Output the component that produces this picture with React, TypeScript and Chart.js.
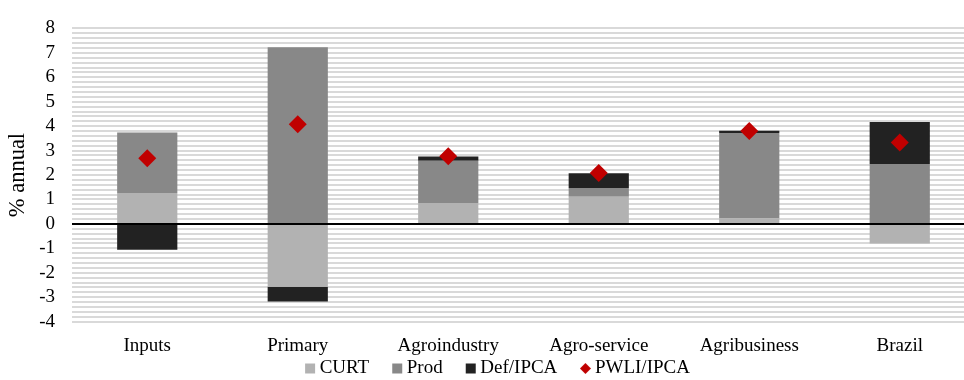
import React, { useEffect, useRef } from "react";
import { Chart, registerables } from "chart.js";

Chart.register(...registerables);

// Decomposition of annual growth by segment (% per year)
const categories = ["Inputs", "Primary", "Agroindustry", "Agro-service", "Agribusiness", "Brazil"];
const curt = [1.27, -2.57, 0.86, 1.11, 0.23, -0.8];
const prod = [2.47, 7.23, 1.72, 0.36, 3.49, 2.45];
const defIpca = [-1.06, -0.6, 0.18, 0.6, 0.09, 1.72];
const pwliIpca = [2.69, 4.08, 2.77, 2.08, 3.8, 3.33];

const yMin = -4;
const yMax = 8;
const yMinorStep = 0.2;

const FONT = "'Liberation Serif', 'Times New Roman', Times, serif";
const RED = "#c00000";

const CANVAS_W = 996;
const CANVAS_H = 380;
// the top tick label adds ~11px above this padding
const TOP_PAD = 10.7;
const X_AXIS_H = 57.3;
const LEGEND_TOP = 331;
const LEGEND_DX = 10;
const LEGEND_GAP = 28;

// black zero line drawn on top of the bars
const zeroLine = {
  id: "zeroLine",
  afterDatasetsDraw(chart: any) {
    const { ctx, chartArea, scales } = chart;
    const y = Math.round(scales.y.getPixelForValue(0));
    ctx.save();
    ctx.strokeStyle = "#000";
    ctx.lineWidth = 2;
    ctx.beginPath();
    ctx.moveTo(chartArea.left, y);
    ctx.lineTo(chartArea.right, y);
    ctx.stroke();
    ctx.restore();
  },
};

// the legend takes no room in the layout; it is placed below the category labels
const legendPlace = {
  id: "legendPlace",
  afterLayout(chart: any) {
    const lg = chart.legend;
    if (!lg) return;
    lg.top = LEGEND_TOP;
    lg.bottom = chart.height;
    lg.height = lg.bottom - lg.top;
    lg.left += LEGEND_DX;
    lg.right += LEGEND_DX;
  },
};

// small red diamond used as the PWLI/IPCA legend symbol
function diamondIcon(size: number, color: string) {
  const c = document.createElement("canvas");
  c.width = size;
  c.height = size;
  const g = c.getContext("2d")!;
  const h = size / 2;
  g.fillStyle = color;
  g.beginPath();
  g.moveTo(h, 0);
  g.lineTo(size, h);
  g.lineTo(h, size);
  g.lineTo(0, h);
  g.closePath();
  g.fill();
  return c;
}

export default function App() {
  const canvasRef = useRef<HTMLCanvasElement | null>(null);

  useEffect(() => {
    if (!canvasRef.current) return;
    Chart.defaults.font.family = FONT;
    Chart.defaults.color = "#000";
    const legendDiamond = diamondIcon(11, RED);

    const chart = new Chart(canvasRef.current, {
      type: "bar",
      data: {
        labels: categories,
        datasets: [
          { type: "bar", label: "CURT", data: curt, backgroundColor: "#b2b2b2", borderWidth: 0, stack: "s", order: 2 },
          { type: "bar", label: "Prod", data: prod, backgroundColor: "#888888", borderWidth: 0, stack: "s", order: 2 },
          { type: "bar", label: "Def/IPCA", data: defIpca, backgroundColor: "#222222", borderWidth: 0, stack: "s", order: 2 },
          {
            type: "line",
            label: "PWLI/IPCA",
            data: pwliIpca,
            showLine: false,
            pointStyle: "rectRot",
            pointRadius: 9,
            pointHoverRadius: 9,
            pointBackgroundColor: RED,
            pointBorderColor: RED,
            pointBorderWidth: 0,
            backgroundColor: RED,
            borderColor: RED,
            borderWidth: 0,
            stack: "p",
            order: 0,
          } as any,
        ],
      },
      options: {
        responsive: false,
        animation: false,
        layout: { padding: { left: 5, top: TOP_PAD, right: 21, bottom: 0 } },
        datasets: { bar: { barPercentage: 0.4, categoryPercentage: 1.0 } },
        scales: {
          x: {
            stacked: true,
            grid: { display: false, drawTicks: false },
            border: { display: false },
            ticks: { font: { size: 19 }, color: "#000", padding: 13.4 },
            afterFit: (scale: any) => {
              scale.height = X_AXIS_H;
            },
          },
          y: {
            stacked: true,
            min: yMin,
            max: yMax,
            afterFit: (scale: any) => {
              scale.width = 67;
            },
            ticks: {
              stepSize: yMinorStep,
              maxTicksLimit: 1000,
              autoSkip: false,
              font: { size: 19 },
              color: "#000",
              padding: 17,
              callback: (v: any) => {
                const n = Number(v);
                return Math.abs(n - Math.round(n)) < 1e-6 ? String(Math.round(n)) : "";
              },
            },
            grid: {
              drawTicks: false,
              color: "#d9d9d9",
              lineWidth: 2,
            },
            border: { display: false },
            title: {
              display: true,
              text: "% annual",
              font: { size: 22.5 },
              color: "#000",
              padding: { top: 0, bottom: 0 },
            },
          },
        },
        plugins: {
          tooltip: { enabled: false },
          legend: {
            position: "bottom",
            maxHeight: 1,
            labels: {
              usePointStyle: true,
              boxHeight: 10,
              boxWidth: 0.1,
              padding: LEGEND_GAP,
              font: { size: 19 },
              color: "#000",
              generateLabels: (c: any) => {
                const items = Chart.defaults.plugins.legend.labels.generateLabels(c);
                items.sort((a: any, b: any) => a.datasetIndex - b.datasetIndex);
                items.forEach((it: any) => {
                  it.pointStyle = it.datasetIndex === 3 ? legendDiamond : "rect";
                  it.lineWidth = 0;
                });
                return items;
              },
            },
          },
        },
      } as any,
      plugins: [zeroLine, legendPlace],
    });

    return () => chart.destroy();
  }, []);

  return (
    <div style={{ position: "fixed", left: 0, top: 0, width: 964, height: CANVAS_H, overflow: "hidden", background: "#fff" }}>
      <canvas
        ref={canvasRef}
        width={CANVAS_W}
        height={CANVAS_H}
        style={{ display: "block", width: CANVAS_W, height: CANVAS_H }}
      />
    </div>
  );
}
